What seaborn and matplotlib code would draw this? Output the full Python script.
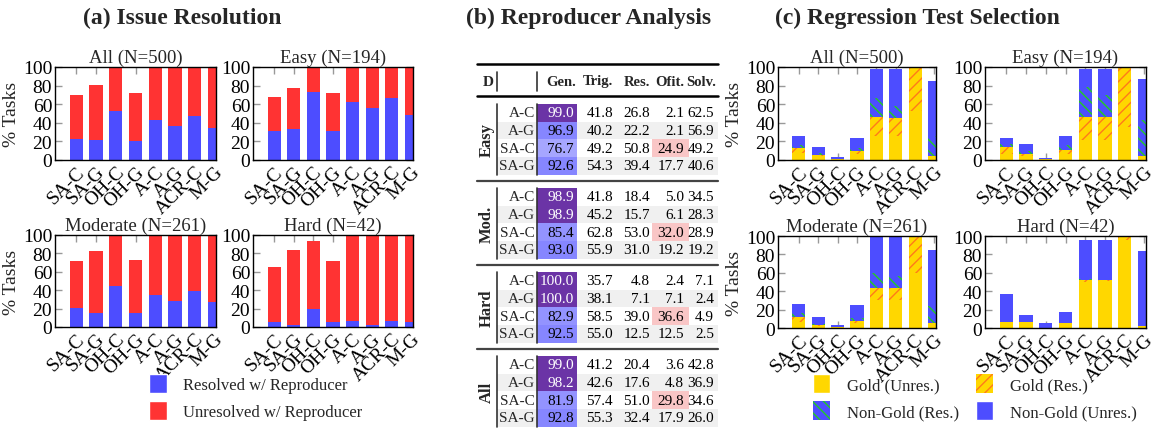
import numpy as np
import pandas as pd
import seaborn as sns
import matplotlib.pyplot as plt
from matplotlib.patches import Patch, Rectangle

sns.set_theme(style="ticks")
plt.rcParams['font.family'] = ['Liberation Serif', 'DejaVu Serif']
plt.rcParams['hatch.linewidth'] = 1.0
plt.rcParams['axes.linewidth'] = 1.0
plt.rcParams['axes.edgecolor'] = 'black'

# ======================
# data
# ======================
methods = ['SA-C', 'SA-G', 'OH-C', 'OH-G', 'A-C', 'A-G', 'ACR-C', 'M-G']
split_titles = ['All (N=500)', 'Easy (N=194)', 'Moderate (N=261)', 'Hard (N=42)']

# (a) % tasks with reproducer (total) and resolved among them
a_total_all = [70, 81, 99, 72, 100, 100, 100, 100]
a_resolved_all = [23, 21, 53, 20, 43, 37, 47, 34]
a_total_easy = [68, 77, 100, 72, 100, 100, 100, 100]
a_resolved_easy = [31, 33, 73, 31, 62.5, 56, 67, 48]
a_total_mod = [72, 83, 100, 73, 100, 100, 100, 100]
a_resolved_mod = [21, 15, 45, 15, 35, 28, 39, 27]
a_total_hard = [65, 84, 93, 72, 100, 100, 100, 100]
a_resolved_hard = [5, 2.5, 20, 5, 7, 2.5, 7, 5]

# (b) reproducer analysis table
tbl_groups = ['Easy', 'Mod.', 'Hard', 'All']
tbl_rows = ['A-C', 'A-G', 'SA-C', 'SA-G']
tbl_header = ['Gen.', 'Trig.', 'Res.', 'Ofit.', 'Solv.']
gen = [99.0, 96.9, 76.7, 92.6, 98.9, 98.9, 85.4, 93.0,
       100.0, 100.0, 82.9, 92.5, 99.0, 98.2, 81.9, 92.8]
trig = [41.8, 40.2, 49.2, 54.3, 41.8, 45.2, 62.8, 55.9,
        35.7, 38.1, 58.5, 55.0, 41.2, 42.6, 57.4, 55.3]
res = [26.8, 22.2, 50.8, 39.4, 18.4, 15.7, 53.0, 31.0,
       4.8, 7.1, 39.0, 12.5, 20.4, 17.6, 51.0, 32.4]
ofit = [2.1, 2.1, 24.9, 17.7, 5.0, 6.1, 32.0, 19.2,
        2.4, 7.1, 36.6, 12.5, 3.6, 4.8, 29.8, 17.9]
solv = [62.5, 56.9, 49.2, 40.6, 34.5, 28.3, 28.9, 19.2,
        7.1, 2.4, 4.9, 2.5, 42.8, 36.9, 34.6, 26.0]

# (c) regression test selection: gold unres / gold res / non-gold res / non-gold unres
c_gu_all = [7, 4, 1.5, 6, 26, 26, 53, 4]
c_gr_all = [6, 1, 0, 3.5, 20, 19, 47, 0]
c_nr_all = [3, 2, 0, 3, 21, 13, 0, 22]
c_nu_all = [10, 7, 1.5, 11.5, 30.5, 39.5, 0, 59]
c_gu_easy = [6, 4, 1.5, 6, 22, 22, 35, 4]
c_gr_easy = [8, 2, 0, 5, 24, 24, 65, 0]
c_nr_easy = [3, 4, 0, 5, 32, 24, 0, 39]
c_nu_easy = [7, 7, 0.5, 10, 20, 28, 0, 44]
c_gu_mod = [7, 2, 1, 5, 30, 30, 60, 5]
c_gr_mod = [5.5, 1, 0, 3, 14, 14, 40, 0]
c_nr_mod = [3.5, 1, 0, 3, 16, 13, 0, 19]
c_nu_mod = [10, 8, 2, 14, 38.5, 41.5, 0, 61]
c_gu_hard = [7, 7, 0, 5, 50, 51, 96, 2.5]
c_gr_hard = [0, 0, 0, 0, 2.5, 1.5, 4, 0]
c_nr_hard = [0, 0, 0, 0, 1, 0, 0, 1]
c_nu_hard = [29.5, 7.5, 5, 12, 42.5, 43.5, 0, 80.5]

# ======================
# style
# ======================
W, H = 1156, 431
BLUE = '#4d4dff'
RED = '#ff3333'
GOLD = '#ffd700'
ORANGE = '#ff7a1a'
GREEN = '#22cc22'

fig = plt.figure(figsize=(W / 100, H / 100), dpi=100)


def add_ax(x0, y0, x1, y1):
    # pixel box -> figure fraction
    return fig.add_axes([x0 / W, 1 - y1 / H, (x1 - x0) / W, (y1 - y0) / H])


def style_ax(ax, title, ylabel):
    ax.set_ylim(0, 100)
    ax.set_xlim(-1.08, 7.08)
    ax.set_yticks(range(0, 101, 20))
    ax.set_xticks(range(len(methods)))
    ax.set_xticklabels(methods, rotation=45, ha='right', rotation_mode='anchor')
    ax.tick_params(direction='in', length=5, width=1, color='#999999', labelcolor='black',
                   top=True, right=True, labelsize=14, pad=2)
    ax.set_title(title, fontsize=13.5, pad=4)
    ax.set_xlabel('')
    ax.set_ylabel('% Tasks' if ylabel else '', fontsize=14, labelpad=2)
    for s in ax.spines.values():
        s.set_zorder(5)


def draw_a(ax, total, resolved, title, ylabel):
    sns.barplot(x=methods, y=total, color=RED, saturation=1, width=0.68,
                linewidth=0, errorbar=None, ax=ax)
    sns.barplot(x=methods, y=resolved, color=BLUE, saturation=1, width=0.68,
                linewidth=0, errorbar=None, ax=ax)
    style_ax(ax, title, ylabel)


def draw_c(ax, gu, gr, nr, nu, title, ylabel):
    lvl1 = np.array(gu)
    lvl2 = lvl1 + np.array(gr)
    lvl3 = lvl2 + np.array(nr)
    lvl4 = lvl3 + np.array(nu)
    sns.barplot(x=methods, y=lvl4, color=BLUE, saturation=1, width=0.68,
                linewidth=0, errorbar=None, ax=ax)
    sns.barplot(x=methods, y=lvl3, facecolor=BLUE, edgecolor=GREEN, hatch='\\\\\\',
                linewidth=0, width=0.68, errorbar=None, ax=ax)
    sns.barplot(x=methods, y=lvl2, facecolor=GOLD, edgecolor=ORANGE, hatch='///',
                linewidth=0, width=0.68, errorbar=None, ax=ax)
    sns.barplot(x=methods, y=lvl1, color=GOLD, saturation=1, width=0.68,
                linewidth=0, errorbar=None, ax=ax)
    style_ax(ax, title, ylabel)


# ======================
# (a) Issue Resolution
# ======================
draw_a(add_ax(55, 68, 216, 161), a_total_all, a_resolved_all, split_titles[0], True)
draw_a(add_ax(253, 68, 413, 161), a_total_easy, a_resolved_easy, split_titles[1], False)
draw_a(add_ax(55, 236, 216, 328), a_total_mod, a_resolved_mod, split_titles[2], True)
draw_a(add_ax(253, 236, 413, 328), a_total_hard, a_resolved_hard, split_titles[3], False)

fig.text(182 / W, 1 - 18 / H, '(a) Issue Resolution', ha='center', va='center',
         fontsize=17, fontweight='bold')
fig.legend(handles=[Patch(facecolor=BLUE, label='Resolved w/ Reproducer'),
                    Patch(facecolor=RED, label='Unresolved w/ Reproducer')],
           loc='upper left', bbox_to_anchor=(149 / W, 1 - 375 / H), frameon=False,
           fontsize=12, handlelength=1.05, handleheight=1.4, handletextpad=1.0,
           labelspacing=0.45, borderpad=0, borderaxespad=0)

# ======================
# (c) Regression Test Selection
# ======================
draw_c(add_ax(778, 68, 936, 161), c_gu_all, c_gr_all, c_nr_all, c_nu_all, split_titles[0], True)
draw_c(add_ax(985, 68, 1146, 161), c_gu_easy, c_gr_easy, c_nr_easy, c_nu_easy, split_titles[1], False)
draw_c(add_ax(778, 237, 936, 329), c_gu_mod, c_gr_mod, c_nr_mod, c_nu_mod, split_titles[2], True)
draw_c(add_ax(985, 237, 1146, 329), c_gu_hard, c_gr_hard, c_nr_hard, c_nu_hard, split_titles[3], False)

fig.text(917 / W, 1 - 18 / H, '(c) Regression Test Selection', ha='center', va='center',
         fontsize=17, fontweight='bold')
fig.legend(handles=[Patch(facecolor=GOLD, label='Gold (Unres.)'),
                    Patch(facecolor=BLUE, edgecolor=GREEN, hatch='\\\\\\', linewidth=0, label='Non-Gold (Res.)'),
                    Patch(facecolor=GOLD, edgecolor=ORANGE, hatch='///', linewidth=0, label='Gold (Res.)'),
                    Patch(facecolor=BLUE, label='Non-Gold (Unres.)')],
           ncol=2, loc='upper left', bbox_to_anchor=(813 / W, 1 - 375 / H), frameon=False,
           fontsize=12, handlelength=1.05, handleheight=1.4, handletextpad=1.0,
           labelspacing=0.45, columnspacing=1.0, borderpad=0, borderaxespad=0)

# ======================
# (b) Reproducer Analysis table
# ======================
tx0, tx1 = 470, 725
ax_t = fig.add_axes([tx0 / W, 0, (tx1 - tx0) / W, 1])
ax_t.set_xlim(tx0, tx1)
ax_t.set_ylim(H, 0)
ax_t.axis('off')

L, R = 477, 718
V1, V2 = 497, 537
col_right = [576, 613, 650, 686, 716]
head_right = [576, 613, 650, 684, 716]
row_h = 17.7
block_top0, block_step = 105, 84


def gen_color(v):
    if v >= 98:
        return '#6b34a6'
    if v >= 90:
        return '#8686ff'
    if v >= 80:
        return '#9393ff'
    return '#a6a6ff'


fs = 11
ax_t.plot([L, R], [65, 65], color='black', lw=1.8)
ax_t.plot([L, R], [97, 97], color='black', lw=1.8)
ax_t.text(494, 82, 'D', ha='right', va='center', fontsize=fs, fontweight='bold')
for vx in (V1, V2):
    ax_t.plot([vx, vx], [73, 92], color='#333333', lw=1.2)
for h, xr in zip(tbl_header, head_right):
    ax_t.text(xr, 82, h, ha='right', va='center', fontsize=10.5, fontweight='bold')

for b, grp in enumerate(tbl_groups):
    top = block_top0 + b * block_step
    vals = slice(b * 4, b * 4 + 4)
    of_block = ofit[vals]
    for r, rl in enumerate(tbl_rows):
        i = b * 4 + r
        y0 = top + r * row_h
        yc = y0 + row_h / 2
        if r % 2 == 1:
            ax_t.add_patch(Rectangle((V1, y0), R - V1, row_h, color='#f0f0f0', lw=0))
        ax_t.add_patch(Rectangle((V2, y0), 40, row_h, color=gen_color(gen[i]), lw=0))
        if ofit[i] == max(of_block):
            ax_t.add_patch(Rectangle((652, y0), 37, row_h, color='#f9c6c6', lw=0))
        ax_t.text(535, yc, rl, ha='right', va='center', fontsize=fs)
        row_vals = [gen[i], trig[i], res[i], ofit[i], solv[i]]
        for k, (v, xr) in enumerate(zip(row_vals, col_right)):
            c = 'white' if (k == 0 and gen[i] >= 98) else 'black'
            dx = 2 if k in (0, 3, 4) else 0
            ax_t.text(xr - dx, yc, f'{v:.1f}', ha='right', va='center', fontsize=fs, color=c)
    ax_t.plot([V1, V1], [top, top + 4 * row_h], color='#333333', lw=1.2)
    ax_t.plot([V2, V2], [top, top + 4 * row_h], color='#333333', lw=1.2)
    ax_t.text(487, top + 2 * row_h, grp, rotation=90, ha='center', va='center',
              fontsize=fs + 1, fontweight='bold')
    if b < len(tbl_groups) - 1:
        sep = top + 4 * row_h + 6
        ax_t.plot([L, R], [sep, sep], color='#444444', lw=1.6)

fig.text(589 / W, 1 - 18 / H, '(b) Reproducer Analysis', ha='center', va='center',
         fontsize=17, fontweight='bold')

fig.savefig('out.png', dpi=100)
